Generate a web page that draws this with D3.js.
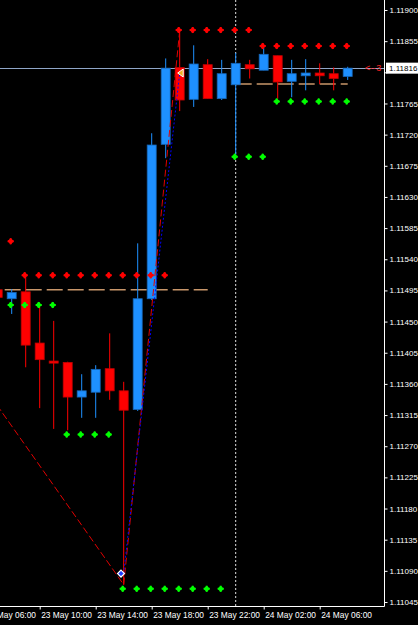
<!DOCTYPE html>
<html>
<head>
<meta charset="utf-8">
<script src="https://cdn.jsdelivr.net/npm/d3@7"></script>
<style>
  body { margin: 0; background: #000; }
  svg { display: block; }
</style>
</head>
<body>
<div id="chart"></div>
<script>
// EURUSD H1, 23 May 07:00 -> 24 May 08:00
var candleTimes = ["2019-05-23 07:00", "2019-05-23 08:00", "2019-05-23 09:00", "2019-05-23 10:00",
  "2019-05-23 11:00", "2019-05-23 12:00", "2019-05-23 13:00", "2019-05-23 14:00", "2019-05-23 15:00",
  "2019-05-23 16:00", "2019-05-23 17:00", "2019-05-23 18:00", "2019-05-23 19:00", "2019-05-23 20:00",
  "2019-05-23 21:00", "2019-05-23 22:00", "2019-05-23 23:00", "2019-05-24 00:00", "2019-05-24 01:00",
  "2019-05-24 02:00", "2019-05-24 03:00", "2019-05-24 04:00", "2019-05-24 05:00", "2019-05-24 06:00",
  "2019-05-24 07:00", "2019-05-24 08:00"];
var opens  = [1.11496, 1.11483, 1.11493, 1.11419, 1.11393, 1.11391, 1.11341, 1.11348, 1.11382, 1.11350, 1.11323, 1.11483, 1.11706,
              1.11817, 1.11771, 1.11821, 1.11772, 1.11792, 1.11821, 1.11813, 1.11834, 1.11797, 1.11805, 1.11809, 1.11808, 1.11804];
var highs  = [1.11500, 1.11497, 1.11517, 1.11471, 1.11451, 1.11392, 1.11374, 1.11387, 1.11433, 1.11363, 1.11563, 1.11722, 1.11830,
              1.11870, 1.11849, 1.11829, 1.11828, 1.11838, 1.11828, 1.11847, 1.11834, 1.11828, 1.11829, 1.11823, 1.11817, 1.11818];
var lows   = [1.11480, 1.11461, 1.11384, 1.11325, 1.11295, 1.11293, 1.11311, 1.11311, 1.11337, 1.11070, 1.11321, 1.11481, 1.11686,
              1.11754, 1.11760, 1.11772, 1.11770, 1.11688, 1.11801, 1.11813, 1.11772, 1.11774, 1.11784, 1.11793, 1.11784, 1.11799];
var closes = [1.11485, 1.11492, 1.11416, 1.11395, 1.11390, 1.11341, 1.11350, 1.11381, 1.11350, 1.11322, 1.11483, 1.11705, 1.11816,
              1.11770, 1.11822, 1.11772, 1.11808, 1.11823, 1.11815, 1.11836, 1.11796, 1.11808, 1.11809, 1.11805, 1.11801, 1.11816];

// fractal levels, one value per candle (null = no dot)
var upperDots = [null, 1.11566,
  1.11517, 1.11517, 1.11517, 1.11517, 1.11517, 1.11517, 1.11517, 1.11517, 1.11517, 1.11517, 1.11517,
  1.11871, 1.11871, 1.11871, 1.11871, 1.11871, 1.11871,
  1.11848, 1.11848, 1.11848, 1.11848, 1.11848, 1.11848, 1.11848];
var lowerDots = [null,
  1.11474, 1.11474, 1.11474, 1.11474,
  1.11287, 1.11287, 1.11287, 1.11287,
  1.11064, 1.11064, 1.11064, 1.11064, 1.11064, 1.11064, 1.11064, 1.11064,
  1.11688, 1.11688, 1.11688,
  1.11768, 1.11768, 1.11768, 1.11768, 1.11768, 1.11768];

// dashed tan levels
var levelPrices = [1.11496, 1.11793];
var levelFrom = ["2019-05-23 06:00", "2019-05-24 00:00"];
var levelTo   = ["2019-05-23 22:00", "2019-05-24 08:00"];

// zigzag
var zigzagTimes  = ["2019-05-23 02:00", "2019-05-23 16:00", "2019-05-23 20:00"];
var zigzagPrices = [1.11471, 1.11070, 1.11870];
// blue dotted leg + arrows
var legTimes  = ["2019-05-23 16:00", "2019-05-23 20:00"];
var legPrices = [1.11086, 1.11809];

var currentPrice = 1.11816;
var sessionStart = "2019-05-24 00:00";
var xTickTimes = ["2019-05-23 06:00", "2019-05-23 10:00", "2019-05-23 14:00", "2019-05-23 18:00",
  "2019-05-23 22:00", "2019-05-24 02:00", "2019-05-24 06:00"];
var yTickValues = [1.11045, 1.11090, 1.11135, 1.11180, 1.11225, 1.11270, 1.11315, 1.11360, 1.11405, 1.11450,
  1.11495, 1.11540, 1.11585, 1.11630, 1.11675, 1.11720, 1.11765, 1.11810, 1.11855, 1.11900];

var width = 418, height = 625;
var plotW = 384, plotH = 606;
var parseT = d3.utcParse("%Y-%m-%d %H:%M");
var fontFam = "Liberation Sans, Arial, sans-serif";

var svg = d3.select("#chart").append("svg")
  .attr("width", width)
  .attr("height", height)
  .style("background", "#000");

var x = d3.scaleUtc()
  .domain([parseT("2019-05-23 00:00"), parseT("2019-05-24 00:00")])
  .range([-100.3, 235.7]);
var y = d3.scaleLinear()
  .domain([1.1103923, 1.1191444])
  .range([plotH, 0]);

svg.append("clipPath").attr("id", "clip")
  .append("rect").attr("x", 0).attr("y", 0).attr("width", plotW).attr("height", plotH);

var plot = svg.append("g").attr("clip-path", "url(#clip)");

// session separator
plot.append("line")
  .attr("x1", x(parseT(sessionStart))).attr("x2", x(parseT(sessionStart)))
  .attr("y1", 0).attr("y2", plotH)
  .attr("stroke", "#e0e0e0").attr("stroke-width", 1).attr("stroke-dasharray", "2,2");

// current price line
plot.append("line")
  .attr("x1", 0).attr("x2", plotW)
  .attr("y1", Math.round(y(currentPrice)) + 0.5).attr("y2", Math.round(y(currentPrice)) + 0.5)
  .attr("stroke", "#8fa6c8").attr("stroke-width", 1);

// tan levels
levelPrices.forEach(function(p, i) {
  plot.append("line")
    .attr("x1", x(parseT(levelFrom[i]))).attr("x2", x(parseT(levelTo[i])))
    .attr("y1", y(p)).attr("y2", y(p))
    .attr("stroke", "#c8966a").attr("stroke-width", 1.5).attr("stroke-dasharray", "16,5");
});

// candles
var candles = candleTimes.map(function(t, i) {
  return {t: parseT(t), o: opens[i], h: highs[i], l: lows[i], c: closes[i]};
});
var bodyW = 9;
var cg = plot.append("g").selectAll("g").data(candles).enter().append("g");
cg.append("line")
  .attr("x1", function(d) { return x(d.t); })
  .attr("x2", function(d) { return x(d.t); })
  .attr("y1", function(d) { return y(d.h); })
  .attr("y2", function(d) { return y(d.l); })
  .attr("stroke", function(d) { return d.c >= d.o ? "#1e90ff" : "#ff0000"; })
  .attr("stroke-width", 1);
cg.append("rect")
  .attr("x", function(d) { return x(d.t) - bodyW / 2; })
  .attr("y", function(d) { return y(Math.max(d.o, d.c)); })
  .attr("width", bodyW)
  .attr("height", function(d) { return Math.max(1.5, Math.abs(y(d.o) - y(d.c))); })
  .attr("fill", function(d) { return d.c >= d.o ? "#1e90ff" : "#ff0000"; })
  .attr("stroke", function(d) { return d.c >= d.o ? "#1767b8" : "#c00000"; })
  .attr("stroke-width", 0.8);

// zigzag (red dashed)
var zz = zigzagTimes.map(function(t, i) { return [x(parseT(t)), y(zigzagPrices[i])]; });
plot.append("path")
  .attr("d", d3.line()(zz))
  .attr("fill", "none").attr("stroke", "#e00000").attr("stroke-width", 1)
  .attr("stroke-dasharray", "7,3");

// blue dotted leg
var leg = legTimes.map(function(t, i) { return [x(parseT(t)), y(legPrices[i])]; });
plot.append("path")
  .attr("d", d3.line()(leg))
  .attr("fill", "none").attr("stroke", "#0000ff").attr("stroke-width", 1)
  .attr("stroke-dasharray", "2,2");

// fractal dots
var dotSym = d3.symbol().type(d3.symbolDiamond2).size(26);
var crossSym = d3.symbol().type(d3.symbolCross).size(20);
function drawDots(vals, color) {
  var pts = [];
  vals.forEach(function(v, i) { if (v !== null) pts.push({t: parseT(candleTimes[i]), v: v}); });
  var g = plot.append("g").selectAll("g").data(pts).enter().append("g")
    .attr("transform", function(d) { return "translate(" + (x(d.t) - 1) + "," + y(d.v) + ")"; });
  g.append("path").attr("d", dotSym).attr("fill", color);
  g.append("path").attr("d", crossSym).attr("fill", color);
}
drawDots(upperDots, "#ff0000");
drawDots(lowerDots, "#00ff00");

// arrow markers
plot.append("path")
  .attr("transform", "translate(" + (x(parseT(legTimes[0])) - 2.7) + "," + y(legPrices[0]) + ")")
  .attr("d", d3.symbol().type(d3.symbolDiamond2).size(30))
  .attr("fill", "#1e3cff").attr("stroke", "#ffffff").attr("stroke-width", 1.2);
var tx = x(parseT(legTimes[1])) + 1, ty = y(legPrices[1]);
plot.append("path")
  .attr("d", "M" + (tx - 3) + "," + ty + "L" + (tx + 2.5) + "," + (ty - 4) + "L" + (tx + 2.5) + "," + (ty + 4) + "Z")
  .attr("fill", "#f0b020").attr("stroke", "#ffffff").attr("stroke-width", 1);

// axes
var yAxis = d3.axisRight(y).tickValues(yTickValues).tickFormat(d3.format(".5f")).tickSize(3).tickSizeOuter(0);
var ya = svg.append("g").attr("transform", "translate(" + (plotW + 0.5) + ",0)").call(yAxis);
ya.select(".domain").remove();
ya.selectAll("line").attr("stroke", "#fff");
ya.selectAll("text").attr("fill", "#fff").attr("x", 5)
  .style("font-family", fontFam).style("font-size", "8px");
// the 1.11810 label sits under the current-price box
ya.selectAll(".tick").filter(function(d) { return Math.abs(d - 1.11810) < 1e-7; }).select("text").remove();

var xAxis = d3.axisBottom(x).tickValues(xTickTimes.map(parseT))
  .tickFormat(d3.utcFormat("%-d %b %H:%M")).tickSize(3).tickSizeOuter(0);
var xa = svg.append("g").attr("transform", "translate(0," + (plotH + 0.5) + ")").call(xAxis);
xa.select(".domain").remove();
xa.selectAll("line").attr("stroke", "#fff");
xa.selectAll("text").attr("fill", "#fff").attr("text-anchor", "start")
  .attr("x", 1).attr("y", 11.5).attr("dy", 0)
  .style("font-family", fontFam).style("font-size", "8.4px");

svg.append("line").attr("x1", plotW + 0.5).attr("x2", plotW + 0.5).attr("y1", 0).attr("y2", plotH + 0.5)
  .attr("stroke", "#fff");
svg.append("line").attr("x1", 0).attr("x2", plotW + 0.5).attr("y1", plotH + 0.5).attr("y2", plotH + 0.5)
  .attr("stroke", "#fff");

// current price label
var cy = y(currentPrice);
svg.append("rect").attr("x", plotW + 2).attr("y", cy - 5.5).attr("width", 34).attr("height", 11).attr("fill", "#fff");
svg.append("text").attr("x", plotW + 5).attr("y", cy).attr("dy", "0.34em")
  .attr("fill", "#000")
  .style("font-family", fontFam).style("font-size", "8px")
  .text(d3.format(".5f")(currentPrice));
svg.append("text").attr("x", plotW - 19).attr("y", cy).attr("dy", "0.35em")
  .attr("fill", "#ff2020")
  .style("font-family", fontFam).style("font-size", "9px")
  .text("<--3");
</script>
</body>
</html>
